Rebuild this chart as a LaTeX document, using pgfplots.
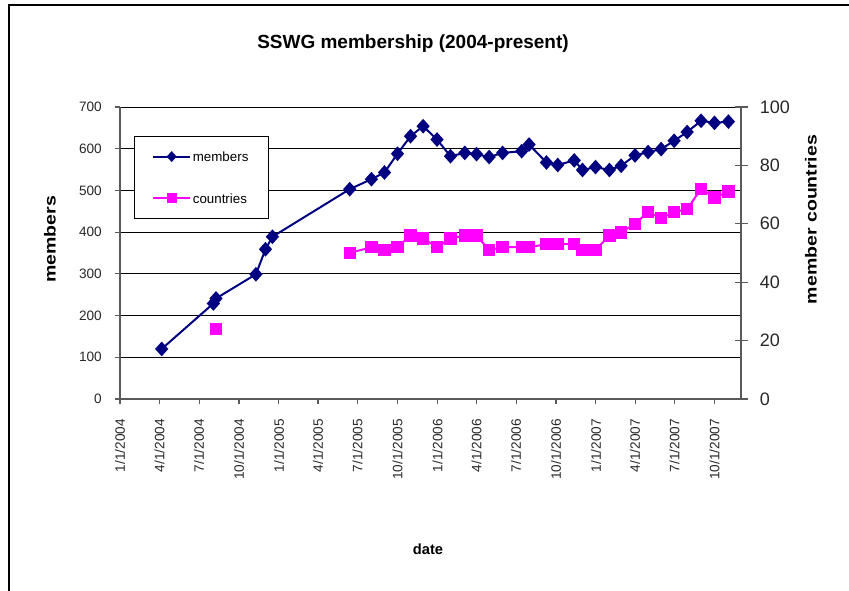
\documentclass[border=0pt]{standalone}
\usepackage{pgfplots}
\pgfplotsset{compat=1.18}
\usepackage{fontspec}
\setmainfont{Liberation Sans}
\definecolor{navyc}{RGB}{0,0,128}
\definecolor{magc}{RGB}{255,0,255}
\definecolor{axgray}{RGB}{90,90,90}
\definecolor{lblgray}{RGB}{40,40,40}
\begin{document}
\begin{tikzpicture}[x=0.75pt,y=0.75pt]
\useasboundingbox (0,0) rectangle (849,590);
\begin{scope}
\clip (0,0) rectangle (849,590);
\fill[white] (0,0) rectangle (849,590);
\draw[black, line width=0.9pt] (9,-20) rectangle (880,585);
\end{scope}
\node[font=\bfseries\fontsize{14.25}{16}\selectfont] at (413,546) {SSWG membership (2004-present)};
\node[rotate=90, font=\bfseries\fontsize{12}{14}\selectfont] at (50,350.5) {\scalebox{1.22}[1]{members}};
\node[rotate=90, font=\bfseries\fontsize{12}{14}\selectfont] at (811,370.5) {\scalebox{1.22}[1]{member countries}};
\node[font=\bfseries\fontsize{11}{13}\selectfont] at (428,41) {date};
\pgfplotsset{
  membersstyle/.style={navyc, line width=1.5pt, mark=diamond*, mark size=4.4pt, mark options={xscale=1.2, solid, fill=navyc}},
  countriesstyle/.style={magc, line width=1.5pt, mark=square*, mark size=3.9pt, mark options={solid, fill=magc}},
}
\begin{axis}[
  at={(90pt,143.25pt)}, anchor=south west,
  width=465.75pt, height=219pt, scale only axis,
  xmin=0, xmax=1430, ymin=0, ymax=700,
  xtick={0,91,182,274,366,456,547,639,731,821,912,1004,1096,1186,1277,1369},
  xticklabels={1/1/2004,4/1/2004,7/1/2004,10/1/2004,1/1/2005,4/1/2005,7/1/2005,10/1/2005,1/1/2006,4/1/2006,7/1/2006,10/1/2006,1/1/2007,4/1/2007,7/1/2007,10/1/2007},
  ytick={0,100,...,700},
  ymajorgrids, grid style={black, line width=0.75pt},
  axis x line*=bottom, axis y line*=left,
  axis line style={-, draw=axgray, line width=1pt},
  tick style={draw=axgray, line width=0.8pt},
  tick align=outside, major tick length=4pt,
  /pgf/number format/assume math mode=true,
  xticklabel style={rotate=90, anchor=east, inner sep=0pt, font=\fontsize{10.2}{12}\selectfont, text=lblgray},
  yticklabel style={inner sep=0pt, font=\fontsize{10.2}{12}\selectfont, text=lblgray},
  xticklabel shift=11pt, yticklabel shift=9.5pt,
  clip=false,
]
\addplot[membersstyle] table {
96 120
215 229
221 241
313 299
335 359
351 389
529 503
579 527
609 543
639 588
669 630
698 654
730 622
761 582
794 590
821 587
850 580
881 590
925 594
942 610
982 567
1008 561
1046 572
1065 549
1095 556
1127 549
1154 559
1186 584
1216 592
1246 599
1276 619
1306 640
1338 667
1369 662
1401 665
};
\end{axis}
\begin{axis}[
  at={(90pt,143.25pt)}, anchor=south west,
  width=465.75pt, height=219pt, scale only axis,
  xmin=0, xmax=1430, ymin=0, ymax=100,
  ytick={0,20,...,100},
  axis x line=none, axis y line*=right,
  axis line style={-, draw=axgray, line width=1pt},
  tick style={draw=axgray, line width=0.8pt},
  tick align=center, major tick length=9.75pt,
  /pgf/number format/assume math mode=true,
  yticklabel style={inner sep=0pt, font=\fontsize{13.5}{15}\selectfont, text=lblgray},
  yticklabel shift=9pt,
  unbounded coords=jump,
  clip=false,
  legend style={at={(0.02254,0.9007)}, anchor=north west, draw=black, thin, fill=white,
    font=\fontsize{10}{12}\selectfont, inner xsep=13.4pt, inner ysep=10.3pt, row sep=21.5pt,
    nodes={inner sep=1.3pt, text depth=0pt}},
  legend cell align=left,
  legend image code/.code={
    \draw[mark repeat=2, mark phase=2, #1, mark size=3pt] plot coordinates {(0pt,0pt) (13.9pt,0pt) (27.75pt,0pt)};
  },
]
\addlegendimage{membersstyle}
\addlegendentry{members}
\addplot[countriesstyle] table {
221 24
250 nan
529 50
579 52
609 51
639 52
669 56
698 55
730 52
761 55
794 56
821 56
850 51
881 52
925 52
942 52
982 53
1008 53
1046 53
1065 51
1095 51
1127 56
1154 57
1186 60
1216 64
1246 62
1276 64
1306 65
1338 72
1369 69
1401 71
};
\addlegendentry{countries}
\end{axis}
\end{tikzpicture}
\end{document}
